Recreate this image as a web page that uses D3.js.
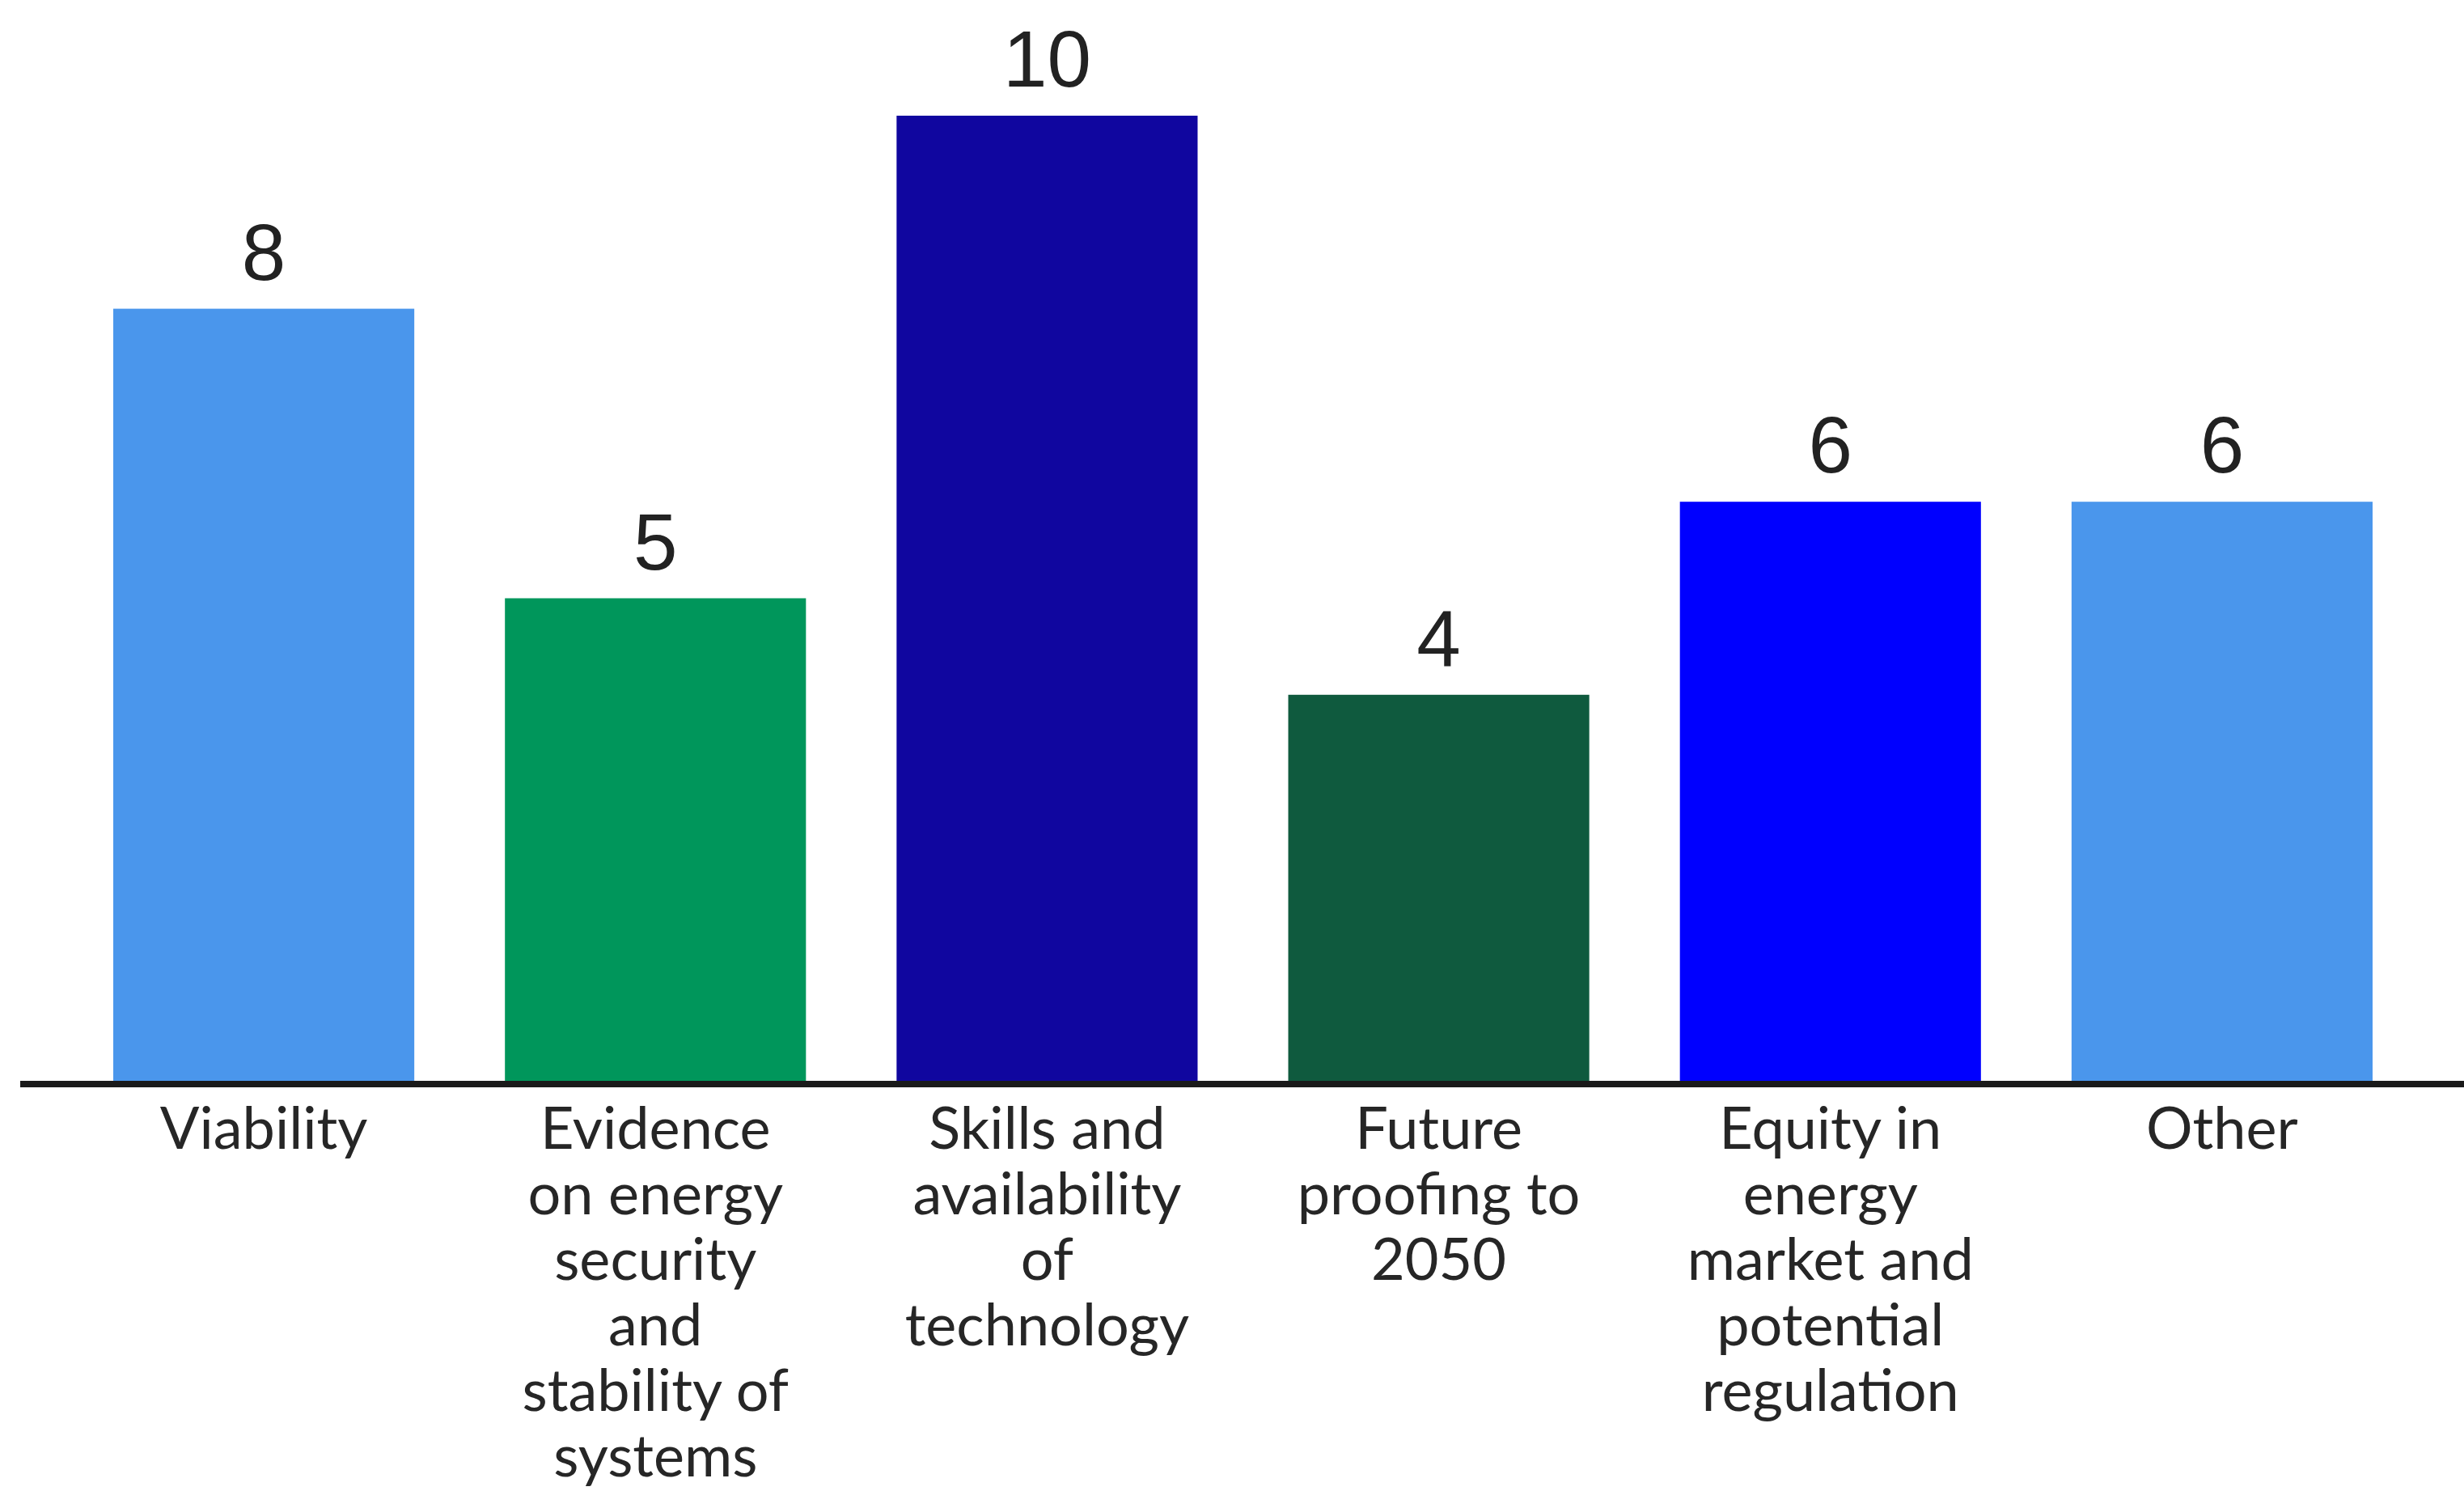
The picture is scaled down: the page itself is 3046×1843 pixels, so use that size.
<!DOCTYPE html>
<html>
<head>
<meta charset="utf-8">
<script src="https://cdn.jsdelivr.net/npm/d3@7"></script>
<style>
  html, body { margin: 0; padding: 0; background: #ffffff; }
  svg { display: block; }
</style>
</head>
<body>
<svg id="chart" width="3046" height="1843"></svg>
<script>
const categories = [
  "Viability",
  "Evidence on energy security and stability of systems",
  "Skills and availability of technology",
  "Future proofing to 2050",
  "Equity in energy market and potential regulation",
  "Other"
];
const tickLabelLines = [
  ["Viability"],
  ["Evidence", "on energy", "security", "and", "stability of", "systems"],
  ["Skills and", "availability", "of", "technology"],
  ["Future", "proofing to", "2050"],
  ["Equity in", "energy", "market and", "potential", "regulation"],
  ["Other"]
];
const values = [8, 5, 10, 4, 6, 6];
const barColors = ["#4a96ec", "#00965b", "#10069f", "#0f5a3e", "#0000ff", "#4a96ec"];

const W = 3046, H = 1843;
const svg = d3.select("#chart");

const axisY = 1336;
const x = d3.scaleBand()
  .domain(categories)
  .range([84, 2989])
  .paddingInner(0.2314)
  .paddingOuter(0.1157);

const y = d3.scaleLinear()
  .domain([0, 10])
  .range([axisY, 143]);

// bars
svg.append("g").selectAll("rect")
  .data(categories)
  .join("rect")
  .attr("x", d => x(d))
  .attr("y", (d, i) => y(values[i]))
  .attr("width", x.bandwidth())
  .attr("height", (d, i) => y(0) - y(values[i]))
  .attr("fill", (d, i) => barColors[i]);

// value labels
svg.append("g").selectAll("text")
  .data(categories)
  .join("text")
  .attr("x", d => x(d) + x.bandwidth() / 2)
  .attr("y", (d, i) => y(values[i]) - 36)
  .attr("text-anchor", "middle")
  .attr("font-family", "'Liberation Sans', Arial, sans-serif")
  .attr("font-size", 98)
  .attr("fill", "#222222")
  .text((d, i) => values[i]);

// x axis
const xAxis = d3.axisBottom(x).tickSize(0).tickPadding(0).tickFormat("");
const gx = svg.append("g")
  .attr("transform", `translate(0,${axisY})`)
  .call(xAxis);
gx.select(".domain").remove();
gx.append("line")
  .attr("x1", 25).attr("x2", W)
  .attr("y1", 4).attr("y2", 4)
  .attr("stroke", "#1a1a1a")
  .attr("stroke-width", 8);

gx.selectAll(".tick").each(function(d, i) {
  const t = d3.select(this).append("text")
    .attr("text-anchor", "middle")
    .attr("font-family", "Lato, 'Noto Sans', sans-serif")
    .attr("font-size", 72)
    .attr("fill", "#262626");
  tickLabelLines[i].forEach((line, j) => {
    t.append("tspan")
      .attr("x", 0)
      .attr("y", 84 + j * 81)
      .text(line);
  });
});
</script>
</body>
</html>
